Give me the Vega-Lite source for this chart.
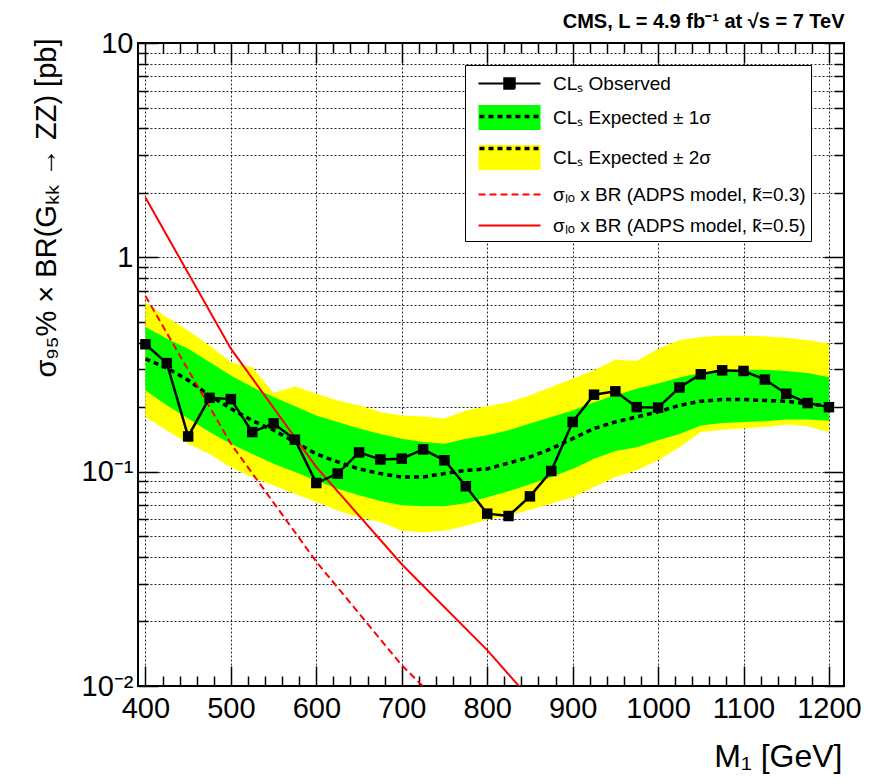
{
  "$schema": "https://vega.github.io/schema/vega-lite/v6.json",
  "width": 706,
  "height": 643,
  "autosize": "none",
  "padding": {"left": 138, "top": 43, "right": 25, "bottom": 98},
  "background": "white",
  "config": {
    "view": {"stroke": "black", "strokeWidth": 2},
    "axis": {
      "labelFont": "Liberation Sans", "labelFontSize": 29, "labelColor": "black",
      "titleFont": "Liberation Sans", "titleColor": "black", "titleFontWeight": "normal",
      "tickColor": "black", "tickWidth": 1.5, "domain": false,
      "gridColor": "black", "gridDash": [2, 2], "gridWidth": 1, "gridOpacity": 0.85
    },
    "legend": {
      "orient": "none", "legendX": 327, "legendY": 22, "title": null,
      "symbolSize": 625, "symbolStrokeWidth": 2, "symbolOpacity": 1, "symbolOffset": 26,
      "labelFont": "Liberation Sans", "labelFontSize": 19, "labelOffset": 30, "labelLimit": 400,
      "rowPadding": 7, "padding": 5
    }
  },
  "datasets": {
    "band": [
      {"m": 400, "lo2": 0.180, "lo1": 0.239, "exp": 0.336, "hi1": 0.473, "hi2": 0.618},
      {"m": 425, "lo2": 0.156, "lo1": 0.204, "exp": 0.305, "hi1": 0.418, "hi2": 0.526},
      {"m": 450, "lo2": 0.135, "lo1": 0.177, "exp": 0.267, "hi1": 0.375, "hi2": 0.456},
      {"m": 475, "lo2": 0.121, "lo1": 0.153, "exp": 0.227, "hi1": 0.325, "hi2": 0.388},
      {"m": 500, "lo2": 0.1045, "lo1": 0.135, "exp": 0.197, "hi1": 0.281, "hi2": 0.325},
      {"m": 525, "lo2": 0.0944, "lo1": 0.121, "exp": 0.173, "hi1": 0.248, "hi2": 0.307},
      {"m": 550, "lo2": 0.0863, "lo1": 0.109, "exp": 0.156, "hi1": 0.223, "hi2": 0.233},
      {"m": 575, "lo2": 0.0789, "lo1": 0.0996, "exp": 0.1375, "hi1": 0.202, "hi2": 0.250},
      {"m": 600, "lo2": 0.0721, "lo1": 0.091, "exp": 0.121, "hi1": 0.183, "hi2": 0.231},
      {"m": 625, "lo2": 0.0659, "lo1": 0.0833, "exp": 0.111, "hi1": 0.1706, "hi2": 0.215},
      {"m": 650, "lo2": 0.0613, "lo1": 0.0776, "exp": 0.103, "hi1": 0.159, "hi2": 0.204},
      {"m": 675, "lo2": 0.0582, "lo1": 0.073, "exp": 0.098, "hi1": 0.150, "hi2": 0.190},
      {"m": 700, "lo2": 0.053, "lo1": 0.0697, "exp": 0.0944, "hi1": 0.1425, "hi2": 0.183},
      {"m": 725, "lo2": 0.052, "lo1": 0.0689, "exp": 0.0944, "hi1": 0.1375, "hi2": 0.181},
      {"m": 750, "lo2": 0.053, "lo1": 0.0689, "exp": 0.098, "hi1": 0.135, "hi2": 0.177},
      {"m": 775, "lo2": 0.056, "lo1": 0.0713, "exp": 0.1014, "hi1": 0.1425, "hi2": 0.193},
      {"m": 800, "lo2": 0.0597, "lo1": 0.076, "exp": 0.103, "hi1": 0.148, "hi2": 0.202},
      {"m": 825, "lo2": 0.0625, "lo1": 0.081, "exp": 0.1097, "hi1": 0.156, "hi2": 0.211},
      {"m": 850, "lo2": 0.0665, "lo1": 0.0873, "exp": 0.117, "hi1": 0.168, "hi2": 0.227},
      {"m": 875, "lo2": 0.071, "lo1": 0.0944, "exp": 0.128, "hi1": 0.180, "hi2": 0.248},
      {"m": 900, "lo2": 0.076, "lo1": 0.103, "exp": 0.1425, "hi1": 0.193, "hi2": 0.2716},
      {"m": 925, "lo2": 0.0847, "lo1": 0.115, "exp": 0.159, "hi1": 0.211, "hi2": 0.297},
      {"m": 950, "lo2": 0.0944, "lo1": 0.125, "exp": 0.1706, "hi1": 0.227, "hi2": 0.333},
      {"m": 975, "lo2": 0.1014, "lo1": 0.130, "exp": 0.180, "hi1": 0.244, "hi2": 0.328},
      {"m": 1000, "lo2": 0.113, "lo1": 0.140, "exp": 0.190, "hi1": 0.258, "hi2": 0.375},
      {"m": 1025, "lo2": 0.130, "lo1": 0.150, "exp": 0.204, "hi1": 0.275, "hi2": 0.410},
      {"m": 1050, "lo2": 0.153, "lo1": 0.164, "exp": 0.213, "hi1": 0.289, "hi2": 0.425},
      {"m": 1075, "lo2": 0.157, "lo1": 0.1685, "exp": 0.217, "hi1": 0.297, "hi2": 0.431},
      {"m": 1100, "lo2": 0.159, "lo1": 0.1706, "exp": 0.217, "hi1": 0.299, "hi2": 0.431},
      {"m": 1125, "lo2": 0.1615, "lo1": 0.172, "exp": 0.215, "hi1": 0.299, "hi2": 0.428},
      {"m": 1150, "lo2": 0.166, "lo1": 0.175, "exp": 0.213, "hi1": 0.295, "hi2": 0.421},
      {"m": 1175, "lo2": 0.163, "lo1": 0.175, "exp": 0.2075, "hi1": 0.289, "hi2": 0.410},
      {"m": 1200, "lo2": 0.153, "lo1": 0.173, "exp": 0.202, "hi1": 0.276, "hi2": 0.396}
    ],
    "obs": [
      {"m": 400, "v": 0.393}, {"m": 425, "v": 0.321}, {"m": 450, "v": 0.146}, {"m": 475, "v": 0.221},
      {"m": 500, "v": 0.218}, {"m": 525, "v": 0.153}, {"m": 550, "v": 0.168}, {"m": 575, "v": 0.141},
      {"m": 600, "v": 0.0885}, {"m": 625, "v": 0.098}, {"m": 650, "v": 0.123}, {"m": 675, "v": 0.114},
      {"m": 700, "v": 0.115}, {"m": 725, "v": 0.127}, {"m": 750, "v": 0.113}, {"m": 775, "v": 0.0855},
      {"m": 800, "v": 0.0637}, {"m": 825, "v": 0.0621}, {"m": 850, "v": 0.0767}, {"m": 875, "v": 0.1007},
      {"m": 900, "v": 0.1706}, {"m": 925, "v": 0.2287}, {"m": 950, "v": 0.237}, {"m": 975, "v": 0.200},
      {"m": 1000, "v": 0.199}, {"m": 1025, "v": 0.247}, {"m": 1050, "v": 0.2846}, {"m": 1075, "v": 0.297},
      {"m": 1100, "v": 0.295}, {"m": 1125, "v": 0.269}, {"m": 1150, "v": 0.231}, {"m": 1175, "v": 0.209},
      {"m": 1200, "v": 0.200}
    ],
    "theory": [
      {"m": 400, "k03": 0.66, "k05": 1.9},
      {"m": 500, "k03": 0.135, "k05": 0.375},
      {"m": 600, "k03": 0.038, "k05": 0.105},
      {"m": 700, "k03": 0.0125, "k05": 0.037},
      {"m": 800, "k03": 0.005, "k05": 0.0147},
      {"m": 900, "k03": 0.002, "k05": 0.0052}
    ]
  },
  "resolve": {
    "axis": {"x": "independent", "y": "independent"},
    "scale": {"fill": "independent", "stroke": "independent", "shape": "independent", "strokeDash": "independent"}
  },
  "layer": [
    {
      "data": {"name": "band"},
      "mark": {"type": "area", "color": "#ffff00", "opacity": 1, "clip": true},
      "encoding": {
        "x": {"field": "m", "type": "quantitative",
          "scale": {"domain": [391.3, 1217.6], "nice": false, "zero": false},
          "axis": {"orient": "bottom", "values": [400, 500, 600, 700, 800, 900, 1000, 1100, 1200], "format": "d",
            "tickSize": -20, "labelPadding": 28, "grid": true, "labelFlush": false,
            "title": "M₁ [GeV]", "titleFontSize": 32, "titleAnchor": "end", "titleAlign": "right",
            "titleBaseline": "alphabetic", "titleX": 704, "titleY": 80}},
        "y": {"field": "hi2", "type": "quantitative",
          "scale": {"type": "log", "domain": [0.01, 10], "nice": false},
          "axis": {"orient": "left", "values": [0.01, 0.1, 1, 10], "tickSize": -20, "labelPadding": 25,
            "grid": true, "labelFlush": false,
            "labelExpr": "datum.value >= 5 ? '10' : datum.value >= 0.5 ? '1' : datum.value >= 0.05 ? '10⁻¹' : '10⁻²'",
            "title": "σ₉₅% × BR(Gₖₖ → ZZ) [pb]", "titleFontSize": 29, "titleAngle": -90,
            "titleAlign": "right", "titleBaseline": "alphabetic", "titleAnchor": "end", "titleX": -83, "titleY": -5}},
        "y2": {"field": "lo2"}
      }
    },
    {
      "data": {"name": "band"},
      "mark": {"type": "area", "color": "#00ff00", "opacity": 1, "clip": true},
      "encoding": {
        "x": {"field": "m", "type": "quantitative",
          "scale": {"domain": [391.3, 1217.6], "nice": false, "zero": false},
          "axis": {"orient": "bottom", "values": [420, 440, 460, 480, 520, 540, 560, 580, 620, 640, 660, 680, 720, 740, 760, 780, 820, 840, 860, 880, 920, 940, 960, 980, 1020, 1040, 1060, 1080, 1120, 1140, 1160, 1180],
            "tickSize": -10, "labels": false, "grid": false, "title": null}},
        "y": {"field": "hi1", "type": "quantitative",
          "scale": {"type": "log", "domain": [0.01, 10], "nice": false},
          "axis": {"orient": "left", "values": [0.02, 0.03, 0.04, 0.05, 0.06, 0.07, 0.08, 0.09, 0.2, 0.3, 0.4, 0.5, 0.6, 0.7, 0.8, 0.9, 2, 3, 4, 5, 6, 7, 8, 9],
            "tickSize": -10, "labels": false, "grid": true, "title": null}},
        "y2": {"field": "lo1"}
      }
    },
    {
      "data": {"name": "band"},
      "mark": {"type": "line", "color": "black", "strokeWidth": 3.5, "strokeDash": [5, 4], "clip": true},
      "encoding": {
        "x": {"field": "m", "type": "quantitative",
          "scale": {"domain": [391.3, 1217.6], "nice": false, "zero": false},
          "axis": {"orient": "top", "values": [400, 500, 600, 700, 800, 900, 1000, 1100, 1200],
            "tickSize": -20, "labels": false, "grid": false,
            "title": "CMS, L = 4.9 fb⁻¹ at √s = 7 TeV", "titleFontSize": 20, "titleFontWeight": "bold",
            "titleAnchor": "end", "titleAlign": "right", "titleBaseline": "alphabetic", "titleX": 706, "titleY": -16}},
        "y": {"field": "exp", "type": "quantitative",
          "scale": {"type": "log", "domain": [0.01, 10], "nice": false},
          "axis": {"orient": "right", "values": [0.01, 0.1, 1, 10], "tickSize": -20, "labels": false, "grid": false, "title": null}}
      }
    },
    {
      "data": {"name": "theory"},
      "mark": {"type": "line", "color": "#ff0000", "strokeWidth": 2, "strokeDash": [7, 4], "clip": true},
      "encoding": {
        "x": {"field": "m", "type": "quantitative",
          "scale": {"domain": [391.3, 1217.6], "nice": false, "zero": false},
          "axis": {"orient": "top", "values": [420, 440, 460, 480, 520, 540, 560, 580, 620, 640, 660, 680, 720, 740, 760, 780, 820, 840, 860, 880, 920, 940, 960, 980, 1020, 1040, 1060, 1080, 1120, 1140, 1160, 1180],
            "tickSize": -10, "labels": false, "grid": false, "title": null}},
        "y": {"field": "k03", "type": "quantitative",
          "scale": {"type": "log", "domain": [0.01, 10], "nice": false},
          "axis": {"orient": "right", "values": [0.02, 0.03, 0.04, 0.05, 0.06, 0.07, 0.08, 0.09, 0.2, 0.3, 0.4, 0.5, 0.6, 0.7, 0.8, 0.9, 2, 3, 4, 5, 6, 7, 8, 9],
            "tickSize": -10, "labels": false, "grid": false, "title": null}}
      }
    },
    {
      "data": {"name": "theory"},
      "mark": {"type": "line", "color": "#ff0000", "strokeWidth": 2, "clip": true},
      "encoding": {
        "x": {"field": "m", "type": "quantitative", "scale": {"domain": [391.3, 1217.6], "nice": false, "zero": false}, "axis": null},
        "y": {"field": "k05", "type": "quantitative", "scale": {"type": "log", "domain": [0.01, 10], "nice": false}, "axis": null}
      }
    },
    {
      "data": {"name": "obs"},
      "mark": {"type": "line", "color": "black", "strokeWidth": 2.5, "clip": true},
      "encoding": {
        "x": {"field": "m", "type": "quantitative", "scale": {"domain": [391.3, 1217.6], "nice": false, "zero": false}, "axis": null},
        "y": {"field": "v", "type": "quantitative", "scale": {"type": "log", "domain": [0.01, 10], "nice": false}, "axis": null}
      }
    },
    {
      "data": {"name": "obs"},
      "mark": {"type": "point", "shape": "square", "filled": true, "size": 110, "color": "black", "opacity": 1, "clip": true},
      "encoding": {
        "x": {"field": "m", "type": "quantitative", "scale": {"domain": [391.3, 1217.6], "nice": false, "zero": false}, "axis": null},
        "y": {"field": "v", "type": "quantitative", "scale": {"type": "log", "domain": [0.01, 10], "nice": false}, "axis": null}
      }
    },
    {
      "data": {"name": "obs"},
      "mark": {"type": "point", "opacity": 0, "clip": true},
      "encoding": {
        "x": {"field": "m", "type": "quantitative", "scale": {"domain": [391.3, 1217.6], "nice": false, "zero": false}, "axis": null},
        "y": {"field": "v", "type": "quantitative", "scale": {"type": "log", "domain": [0.01, 10], "nice": false}, "axis": null},
        "fill": {"datum": "CLₛ Observed", "type": "nominal",
          "scale": {"domain": ["CLₛ Observed", "CLₛ Expected ± 1σ", "CLₛ Expected ± 2σ", "σₗₒ x BR (ADPS model, k̃=0.3)", "σₗₒ x BR (ADPS model, k̃=0.5)"],
            "range": ["#000000", "#00ff00", "#ffff00", "transparent", "transparent"]},
          "legend": {"labelColor": "black", "strokeColor": "black", "fillColor": "white", "zindex": 1}},
        "stroke": {"datum": "CLₛ Observed", "type": "nominal",
          "scale": {"domain": ["CLₛ Observed", "CLₛ Expected ± 1σ", "CLₛ Expected ± 2σ", "σₗₒ x BR (ADPS model, k̃=0.3)", "σₗₒ x BR (ADPS model, k̃=0.5)"],
            "range": ["#000000", "transparent", "transparent", "#ff0000", "#ff0000"]},
          "legend": {"labelColor": "black", "strokeColor": "black", "fillColor": "white", "zindex": 1}},
        "shape": {"datum": "CLₛ Observed", "type": "nominal",
          "scale": {"domain": ["CLₛ Observed", "CLₛ Expected ± 1σ", "CLₛ Expected ± 2σ", "σₗₒ x BR (ADPS model, k̃=0.3)", "σₗₒ x BR (ADPS model, k̃=0.5)"],
            "range": ["M-2.48,0H2.48M-0.42,-0.42H0.42V0.42H-0.42Z", "M-2.48,-1H2.48V1H-2.48Z", "M-2.48,-1H2.48V1H-2.48Z", "M-2.48,0H2.48", "M-2.48,0H2.48"]},
          "legend": {"labelColor": "black", "strokeColor": "black", "fillColor": "white", "zindex": 1}},
        "strokeDash": {"datum": "CLₛ Observed", "type": "nominal",
          "scale": {"domain": ["CLₛ Observed", "CLₛ Expected ± 1σ", "CLₛ Expected ± 2σ", "σₗₒ x BR (ADPS model, k̃=0.3)", "σₗₒ x BR (ADPS model, k̃=0.5)"],
            "range": [[1, 0], [1, 0], [1, 0], [7, 4], [1, 0]]},
          "legend": {"labelColor": "black", "strokeColor": "black", "fillColor": "white", "zindex": 1}}
      }
    },
    {
      "data": {"name": "obs"},
      "mark": {"type": "point", "opacity": 0, "filled": false, "clip": true},
      "encoding": {
        "x": {"field": "m", "type": "quantitative", "scale": {"domain": [391.3, 1217.6], "nice": false, "zero": false}, "axis": null},
        "y": {"field": "v", "type": "quantitative", "scale": {"type": "log", "domain": [0.01, 10], "nice": false}, "axis": null},
        "stroke": {"datum": "e1", "type": "nominal",
          "scale": {"domain": ["o", "e1", "e2", "t3", "t5"], "range": ["transparent", "#000000", "#000000", "transparent", "transparent"]},
          "legend": {"labelColor": "transparent", "labelExpr": "''", "symbolType": "M-2.48,0H2.48", "symbolStrokeWidth": 3.5, "symbolDash": [5, 4], "symbolFillColor": "transparent", "zindex": 2}}
      }
    }
  ]
}
